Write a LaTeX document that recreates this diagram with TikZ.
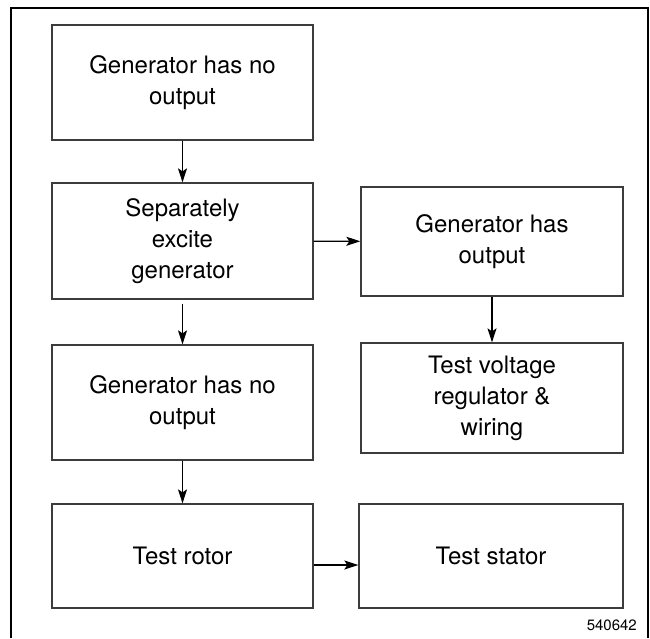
\documentclass[tikz,border=0pt]{standalone}
\usepackage{fontspec}
\setmainfont{TeX Gyre Heros}
\usepackage{tikz}
\usetikzlibrary{arrows.meta}
\definecolor{boxgray}{RGB}{60,60,60}

\tikzset{
  flowbox/.style={draw=boxgray,line width=1.3pt,align=center,inner sep=0pt,
    font=\fontsize{24}{31}\selectfont},
  flowarrow/.style={-{Stealth[length=14pt,width=9pt,inset=3pt]},line width=1.2pt}
}

\begin{document}
\begin{tikzpicture}[x=1pt,y=-1pt]
\useasboundingbox (0,0) rectangle (650,638);
% Frame
\draw[line width=2.5pt] (11,638) -- (11,8) -- (648,8) -- (648,638);
% Left column
\node[flowbox,minimum width=261pt,minimum height=115pt] (noout) at (182.5,82.5) {Generator has no\\output};
\node[flowbox,minimum width=261pt,minimum height=116pt] (excite) at (182.5,241) {Separately\\excite\\generator};
\node[flowbox,minimum width=261pt,minimum height=115pt] (stillno) at (182.5,402.5) {Generator has no\\output};
\node[flowbox,minimum width=261pt,minimum height=104pt] (rotor) at (182.5,556) {Test rotor};
% Right column
\node[flowbox,minimum width=262pt,minimum height=109pt] (hasout) at (492,241.5) {Generator has\\output};
\node[flowbox,minimum width=262pt,minimum height=110pt] (regul) at (492,398) {Test voltage\\regulator \&\\wiring};
\node[flowbox,minimum width=264pt,minimum height=104pt] (stator) at (491,556) {Test stator};
% Figure number
\node[anchor=base east,font=\fontsize{15}{18}\selectfont,inner sep=0pt] (fignum) at (637,630) {540642};
% Arrows
\draw[flowarrow] (noout) -- (excite);
\draw[flowarrow] ([yshift=-4pt]excite.south) -- (stillno);
\draw[flowarrow] (stillno) -- (rotor);
\draw[flowarrow] (excite) -- (hasout);
\draw[flowarrow] (hasout) -- (regul);
\draw[flowarrow] ([yshift=-9pt]rotor.east) -- ([yshift=-9pt]stator.west);
\end{tikzpicture}
\end{document}
